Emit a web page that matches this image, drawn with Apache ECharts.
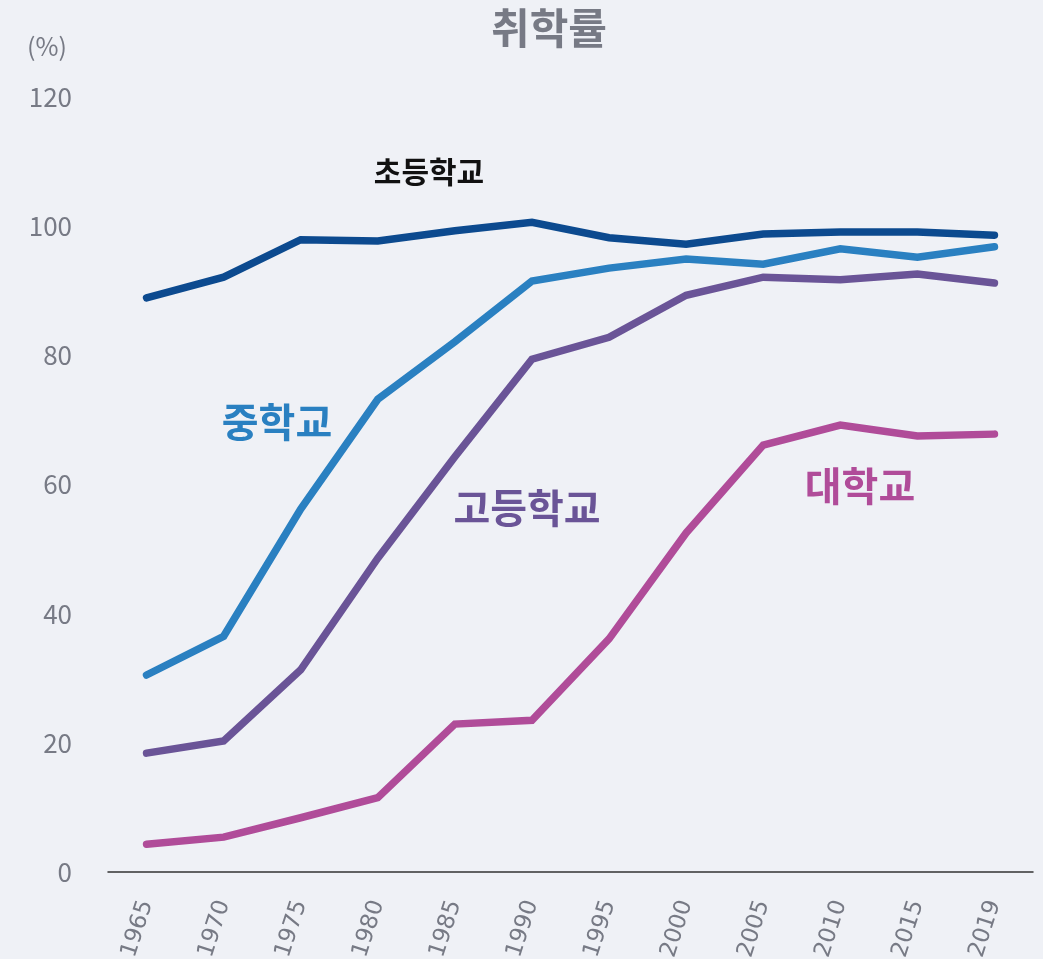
<!DOCTYPE html>
<html>
<head>
<meta charset="utf-8">
<script src="https://cdn.jsdelivr.net/npm/echarts@6/dist/echarts.min.js"></script>
<style>
    html, body { margin: 0; padding: 0; background: #eff1f6; }
    #chart { width: 1043px; height: 959px; }
</style>
</head>
<body>
<div id="chart"></div>
<script>
// 연도 (x축)
const years = ['1965', '1970', '1975', '1980', '1985', '1990', '1995', '2000', '2005', '2010', '2015', '2019'];

// 취학률 (%)
const elementary = [88.9, 92.1, 97.9, 97.7, 99.3, 100.6, 98.2, 97.2, 98.8, 99.1, 99.1, 98.6];
const middle = [30.5, 36.5, 56.2, 73.2, 82.1, 91.5, 93.5, 94.9, 94.1, 96.5, 95.2, 96.8];
const high = [18.4, 20.3, 31.3, 48.6, 64.3, 79.4, 82.8, 89.3, 92.1, 91.7, 92.6, 91.2];
const college = [4.3, 5.4, 8.4, 11.5, 22.9, 23.5, 36.1, 52.5, 66.1, 69.2, 67.5, 67.8];

const gray = '#777a85';
const font = '"Noto Sans CJK KR", "Noto Sans", sans-serif';

const chart = echarts.init(document.getElementById('chart'));

function lineSeries(name, data, color) {
    return {
        name: name,
        type: 'line',
        data: data,
        symbol: 'none',
        lineStyle: { width: 7.5, color: color, cap: 'round', join: 'miter' },
        itemStyle: { color: color }
    };
}

function seriesLabel(text, x, y, size, color) {
    return {
        type: 'text',
        x: x,
        y: y,
        style: {
            text: text,
            fill: color,
            font: 'bold ' + size + 'px ' + font,
            align: 'center',
            verticalAlign: 'middle'
        }
    };
}

chart.setOption({
    backgroundColor: '#eff1f6',
    animation: false,
    grid: { left: 108, right: 10, top: 97, bottom: 87, outerBoundsMode: 'none', containLabel: false },
    xAxis: {
        type: 'category',
        data: years,
        boundaryGap: true,
        axisLine: { lineStyle: { color: '#333', width: 1.5 } },
        axisTick: { show: false },
        axisLabel: {
            rotate: 72,
            margin: 29,
            color: gray,
            fontSize: 23,
            fontFamily: '"DejaVu Sans", sans-serif'
        }
    },
    yAxis: {
        type: 'value',
        min: 0,
        max: 120,
        interval: 20,
        axisLine: { show: false },
        axisTick: { show: false },
        splitLine: { show: false },
        axisLabel: { color: gray, fontSize: 26, fontFamily: font, margin: 36 }
    },
    series: [
        lineSeries('초등학교', elementary, '#0c4a8f'),
        lineSeries('중학교', middle, '#2a80c1'),
        lineSeries('고등학교', high, '#6a5497'),
        lineSeries('대학교', college, '#b04c99')
    ],
    graphic: [
        seriesLabel('취학률', 549, 28, 42, gray),
        {
            type: 'text',
            x: 67,
            y: 46,
            style: { text: '(%)', fill: gray, font: '25px ' + font, align: 'right', verticalAlign: 'middle' }
        },
        seriesLabel('초등학교', 429, 172, 30, '#111'),
        seriesLabel('중학교', 277, 422, 40, '#2a80c1'),
        seriesLabel('고등학교', 527, 508, 40, '#6a5497'),
        seriesLabel('대학교', 860, 486, 40, '#b04c99')
    ]
});

window.addEventListener('resize', function() {
    chart.resize();
});
</script>
</body>
</html>
